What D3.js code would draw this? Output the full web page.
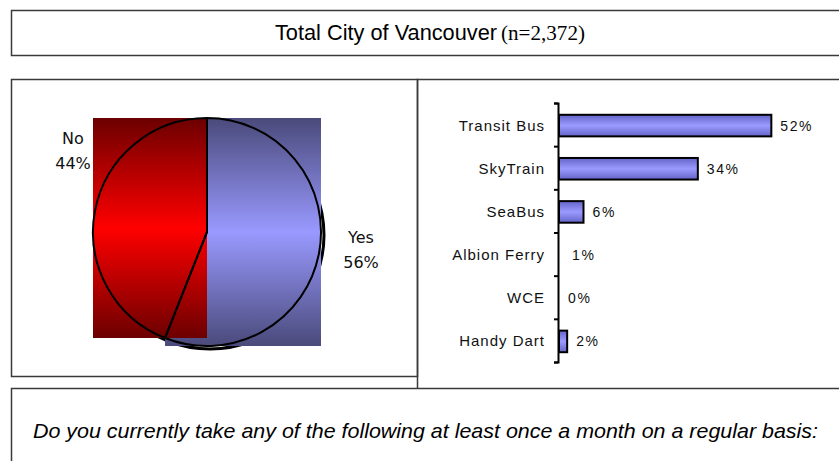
<!DOCTYPE html>
<html lang="en">
<head>
    <meta charset="utf-8">
    <title>Total City of Vancouver</title>
    <script src="https://d3js.org/d3.v7.min.js"></script>
    <style>
        body { margin: 0; background: #fff; }
        svg { display: block; }
        .frame { fill: none; stroke: #3a3a3a; stroke-width: 1.5; }
    </style>
</head>
<body>
<svg id="chart"></svg>
<script>

    // pie: do you take transit at least once a month
    const pieLabels = ["Yes", "No"];
    const pieValues = [56, 44];

    // bars: which services
    const modes = ["Transit Bus", "SkyTrain", "SeaBus", "Albion Ferry", "WCE", "Handy Dart"];
    const modeShares = [52, 34, 6, 1, 0, 2];

    const titleMain = "Total City of Vancouver";
    const titleN = "(n=2,372)";
    const question = "Do you currently take any of the following at least once a month on a regular basis:";

    let width = 839,
        height = 461;

    let svg = d3.select("#chart")
        .attr("width", width)
        .attr("height", height);

    let defs = svg.append("defs");

    function vGradient(id, edge, mid) {
        let g = defs.append("linearGradient")
            .attr("id", id)
            .attr("x1", 0).attr("y1", 0)
            .attr("x2", 0).attr("y2", 1);
        g.append("stop").attr("offset", "0%").attr("stop-color", edge);
        g.append("stop").attr("offset", "50%").attr("stop-color", mid);
        g.append("stop").attr("offset", "100%").attr("stop-color", edge);
    }
    vGradient("gradYes", "#4a4a7b", "#9999ff");
    vGradient("gradNo", "#6c0000", "#ff0000");
    vGradient("gradBar", "#6464c8", "#9a9aff");

    // frames
    svg.append("rect").attr("class", "frame")
        .attr("x", 11.5).attr("y", 10.5).attr("width", 840).attr("height", 45);
    svg.append("rect").attr("class", "frame")
        .attr("x", 11.5).attr("y", 79.5).attr("width", 406).attr("height", 297);
    svg.append("path").attr("class", "frame")
        .attr("d", "M417.5,388 V79.5 H845");
    svg.append("rect").attr("class", "frame")
        .attr("x", 11.5).attr("y", 388.5).attr("width", 840).attr("height", 80);

    // title (narrow-looking sans, squeezed a little)
    svg.append("text")
        .attr("x", 275)
        .attr("y", 40)
        .attr("font-family", "'Liberation Sans', Arial, sans-serif")
        .attr("font-size", 22)
        .attr("textLength", 222)
        .attr("lengthAdjust", "spacingAndGlyphs")
        .text(titleMain);
    svg.append("text")
        .attr("x", 501)
        .attr("y", 40)
        .attr("font-family", "'Liberation Serif', 'Times New Roman', serif")
        .attr("font-size", 20)
        .attr("textLength", 84)
        .attr("lengthAdjust", "spacingAndGlyphs")
        .text(titleN);

    // question
    svg.append("text")
        .attr("x", 33)
        .attr("y", 438)
        .attr("font-family", "'Liberation Sans', Arial, sans-serif")
        .attr("font-style", "italic")
        .attr("font-size", 21)
        .attr("textLength", 785)
        .attr("lengthAdjust", "spacingAndGlyphs")
        .text(question);

    // ---- pie ----
    const cx = 207, cy = 232, r = 114;

    let pie = d3.pie().sort(null).value(d => d);
    let arcs = pie(pieValues);
    let arc = d3.arc().innerRadius(0).outerRadius(r);

    let pieG = svg.append("g").attr("transform", `translate(${cx},${cy})`);

    // offset outline shadow
    pieG.append("circle")
        .attr("cx", 3).attr("cy", 3).attr("r", r)
        .attr("fill", "none")
        .attr("stroke", "#000")
        .attr("stroke-width", 3);

    // gradient blocks fill each slice's bounding box (yes first, then no on top)
    let slicePaths = pieG.selectAll("path.slice")
        .data(arcs)
        .enter().append("path")
        .attr("class", "slice")
        .attr("d", arc)
        .attr("fill", "none");

    slicePaths.each(function (d, i) {
        let b = this.getBBox();
        pieG.append("rect")
            .attr("x", b.x).attr("y", b.y)
            .attr("width", b.width).attr("height", b.height)
            .attr("fill", i === 0 ? "url(#gradYes)" : "url(#gradNo)");
    });

    pieG.selectAll("path.outline")
        .data(arcs)
        .enter().append("path")
        .attr("class", "outline")
        .attr("d", arc)
        .attr("fill", "none")
        .attr("stroke", "#000")
        .attr("stroke-width", 2);

    // pie labels
    const pieLabelPos = [[361, 243], [73, 144]];
    pieLabels.forEach((lab, i) => {
        if (i === 1) {
            // white backing like the original label box
            svg.append("rect")
                .attr("x", 50).attr("y", 125).attr("width", 43).attr("height", 52)
                .attr("fill", "#fff");
        }
        let t = svg.append("text")
            .attr("text-anchor", "middle")
            .attr("font-family", "'DejaVu Sans', Verdana, sans-serif")
            .attr("font-size", 16)
            .attr("fill", "#111");
        t.append("tspan").attr("x", pieLabelPos[i][0]).attr("y", pieLabelPos[i][1]).text(lab);
        t.append("tspan").attr("x", pieLabelPos[i][0]).attr("y", pieLabelPos[i][1] + 25)
            .text(pieValues[i] + "%");
    });

    // ---- bars ----
    let x = d3.scaleLinear().domain([0, 60]).range([559, 804]);
    let y = d3.scaleBand().domain(modes).range([103, 362]).paddingInner(0.5).paddingOuter(0.25);

    let barG = svg.append("g");

    barG.selectAll("rect")
        .data(modes)
        .enter().append("rect")
        .filter((d, i) => modeShares[i] > 1)
        .attr("x", x(0))
        .attr("y", d => y(d) + 1)
        .attr("width", d => x(modeShares[modes.indexOf(d)]) - x(0))
        .attr("height", y.bandwidth())
        .attr("fill", "url(#gradBar)")
        .attr("stroke", "#000")
        .attr("stroke-width", 2);

    barG.selectAll("text.val")
        .data(modes)
        .enter().append("text")
        .attr("class", "val")
        .attr("x", (d, i) => Math.max(x(modeShares[i]), x(0)) + 9)
        .attr("y", d => y(d) + y.bandwidth() / 2 + 6)
        .attr("font-family", "'Liberation Sans', Arial, sans-serif")
        .attr("font-size", 14)
        .attr("letter-spacing", 1.6)
        .attr("fill", "#111")
        .text((d, i) => modeShares[i] + "%");

    // axis: labels, then tick marks on band boundaries
    let axisLabels = svg.append("g")
        .attr("transform", `translate(${x(0) - 1},0)`)
        .call(d3.axisLeft(y).tickSize(0).tickPadding(13));
    axisLabels.select(".domain").remove();
    axisLabels.selectAll("text")
        .attr("font-family", "'Liberation Sans', Arial, sans-serif")
        .attr("font-size", 15)
        .attr("letter-spacing", 1)
        .attr("fill", "#111")
        .attr("dy", "0.4em");

    let bounds = d3.scaleLinear().domain([0, modes.length]).range([103, 362]);
    let axisTicks = svg.append("g")
        .attr("transform", `translate(${x(0) - 1},0)`)
        .call(d3.axisLeft(bounds).ticks(modes.length).tickSize(4).tickSizeOuter(4).tickFormat(""));
    axisTicks.selectAll("path, line")
        .attr("stroke", "#000")
        .attr("stroke-width", 2);

</script>
</body>
</html>
